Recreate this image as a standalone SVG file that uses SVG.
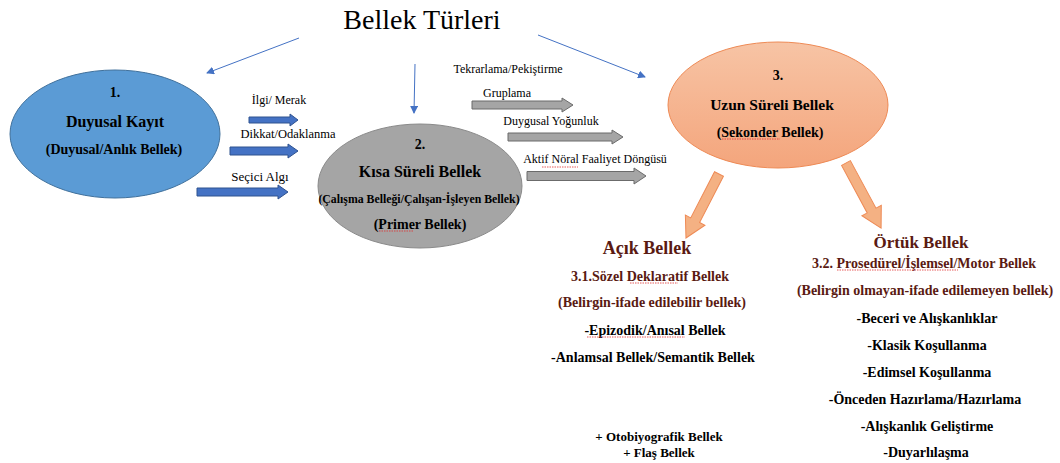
<svg xmlns="http://www.w3.org/2000/svg" width="1060" height="463" viewBox="0 0 1060 463" font-family="'Liberation Serif', 'DejaVu Serif', serif">
<defs>
<marker id="ah" markerWidth="8" markerHeight="8" refX="7" refY="4" orient="auto" markerUnits="userSpaceOnUse">
<path d="M0,0 L8,4 L0,8 Z" fill="#4472c4"/>
</marker>
<linearGradient id="og" x1="0" y1="0" x2="0" y2="1">
<stop offset="0" stop-color="#f7c4a5"/>
<stop offset="1" stop-color="#f4a57c"/>
</linearGradient>
</defs>
<style>
text{font-family:'Liberation Serif','DejaVu Serif',serif;text-anchor:middle;fill:#000}
.b{font-weight:bold}
.lbl{font-size:12px}
.dr{fill:#5a1a12;font-weight:bold}
.bl{fill:#4472c4;stroke:#2f528f;stroke-width:1}
.gr{fill:#a5a5a5;stroke:#6b6b6b;stroke-width:1}
.or{fill:#f4b183;stroke:#ee8a55;stroke-width:1}
.sq{fill:none;stroke:#e03030;stroke-width:0.8;stroke-dasharray:1.5 1}
.ln{stroke:#4472c4;stroke-width:1;fill:none}
</style>
<rect width="1060" height="463" fill="#fff"/>
<text x="422" y="29" style="font-size:28px">Bellek Türleri</text>

<g id="connectors">
<line class="ln" x1="299" y1="38" x2="207" y2="73" marker-end="url(#ah)"/>
<line class="ln" x1="415" y1="64" x2="414" y2="113" marker-end="url(#ah)"/>
<line class="ln" x1="538" y1="35" x2="645" y2="77" marker-end="url(#ah)"/>
<polygon class="bl" points="249,117 290,117 290,114 298,120 290,126 290,123 249,123"/>
<polygon class="bl" points="230,147 288,147 288,144 298,151 288,158 288,155 230,155"/>
<polygon class="bl" points="197,188 278,188 278,185 288,192 278,199 278,196 197,196"/>
<polygon class="gr" points="472,101 562,101 562,98 573,105 562,112 562,109 472,109"/>
<polygon class="gr" points="508,133 612,133 612,130 623,137 612,144 612,141 508,141"/>
<polygon class="gr" points="527,171.5 634,171.5 634,168 646,176 634,184 634,180.5 527,180.5"/>
<polygon class="or" transform="translate(719,174) rotate(117.3)" points="0,-5 52,-5 52,-11 72,0 52,11 52,5 0,5"/>
<polygon class="or" transform="translate(846,163) rotate(61.7)" points="0,-5 54,-5 54,-11 74,0 54,11 54,5 0,5"/>
<text class="lbl" x="279" y="104">İlgi/ Merak</text>
<text x="288" y="138" style="font-size:12.5px">Dikkat/Odaklanma</text>
<text x="260" y="181" style="font-size:13px">Seçici Algı</text>
<text x="508" y="73" style="font-size:12px">Tekrarlama/Pekiştirme</text>
<text x="507" y="97" style="font-size:12px">Gruplama</text>
<text class="lbl" x="551" y="125">Duygusal Yoğunluk</text>
<text class="lbl" x="595" y="163">Aktif Nöral Faaliyet Döngüsü</text>
<path class="sq" d="M542,167 h36"/>
</g>

<g id="node1">
<ellipse cx="115" cy="134" rx="105" ry="64" fill="#5b9bd5" stroke="#41719c" stroke-width="1"/>
<text class="b" x="115" y="97" style="font-size:14px">1.</text>
<text class="b" x="115" y="127" style="font-size:16px">Duyusal Kayıt</text>
<text class="b" x="114" y="154" style="font-size:14px">(Duyusal/Anlık Bellek)</text>
</g>

<g id="node2">
<ellipse cx="420" cy="186" rx="102" ry="62" fill="#a5a5a5" stroke="#8a8a8a" stroke-width="1"/>
<text class="b" x="420" y="149" style="font-size:14px">2.</text>
<text class="b" x="420" y="177" style="font-size:16px">Kısa Süreli Bellek</text>
<text class="b" x="419" y="203" style="font-size:11.8px">(Çalışma Belleği/Çalışan-İşleyen Bellek)</text>
<text class="b" x="420" y="229" style="font-size:14px">(Primer Bellek)</text>
<path class="sq" d="M379,231 h35"/>
</g>

<g id="node3">
<ellipse cx="778" cy="105" rx="110" ry="63" fill="url(#og)" stroke="#ee8a55" stroke-width="1"/>
<text class="b" x="778" y="80" style="font-size:14px">3.</text>
<text class="b" x="772" y="110" style="font-size:15.5px">Uzun Süreli Bellek</text>
<text class="b" x="770" y="137" style="font-size:14px">(Sekonder Bellek)</text>
<path class="sq" d="M722,139 h58"/>
</g>

<g id="acik">
<text class="dr" x="647" y="254" style="font-size:18px">Açık Bellek</text>
<text class="dr" x="650" y="281" style="font-size:14px">3.1.Sözel Deklaratif Bellek</text>
<path class="sq" d="M630,283 h48"/>
<text class="dr" x="652" y="307" style="font-size:14px">(Belirgin-ifade edilebilir bellek)</text>
<text class="b" x="655" y="335" style="font-size:14px">-Epizodik/Anısal Bellek</text>
<path class="sq" d="M587,337 h98"/>
<text class="b" x="653" y="362" style="font-size:14px">-Anlamsal Bellek/Semantik Bellek</text>
<text class="b" x="659" y="441" style="font-size:13px">+ Otobiyografik Bellek</text>
<text class="b" x="659" y="457" style="font-size:13px">+ Flaş Bellek</text>
</g>

<g id="ortuk">
<text class="dr" x="921" y="248" style="font-size:17px">Örtük Bellek</text>
<text class="dr" x="924" y="268" style="font-size:14px">3.2. Prosedürel/İşlemsel/Motor Bellek</text>
<path class="sq" d="M837,270 h121"/>
<text class="dr" x="925" y="295" style="font-size:14px">(Belirgin olmayan-ifade edilemeyen bellek)</text>
<text class="b" x="927" y="323" style="font-size:14px">-Beceri ve Alışkanlıklar</text>
<text class="b" x="927" y="350" style="font-size:14px">-Klasik Koşullanma</text>
<text class="b" x="927" y="377" style="font-size:14px">-Edimsel Koşullanma</text>
<text class="b" x="925" y="404" style="font-size:14px">-Önceden Hazırlama/Hazırlama</text>
<text class="b" x="927" y="431" style="font-size:14px">-Alışkanlık Geliştirme</text>
<text class="b" x="926" y="457" style="font-size:14px">-Duyarlılaşma</text>
</g>
</svg>
